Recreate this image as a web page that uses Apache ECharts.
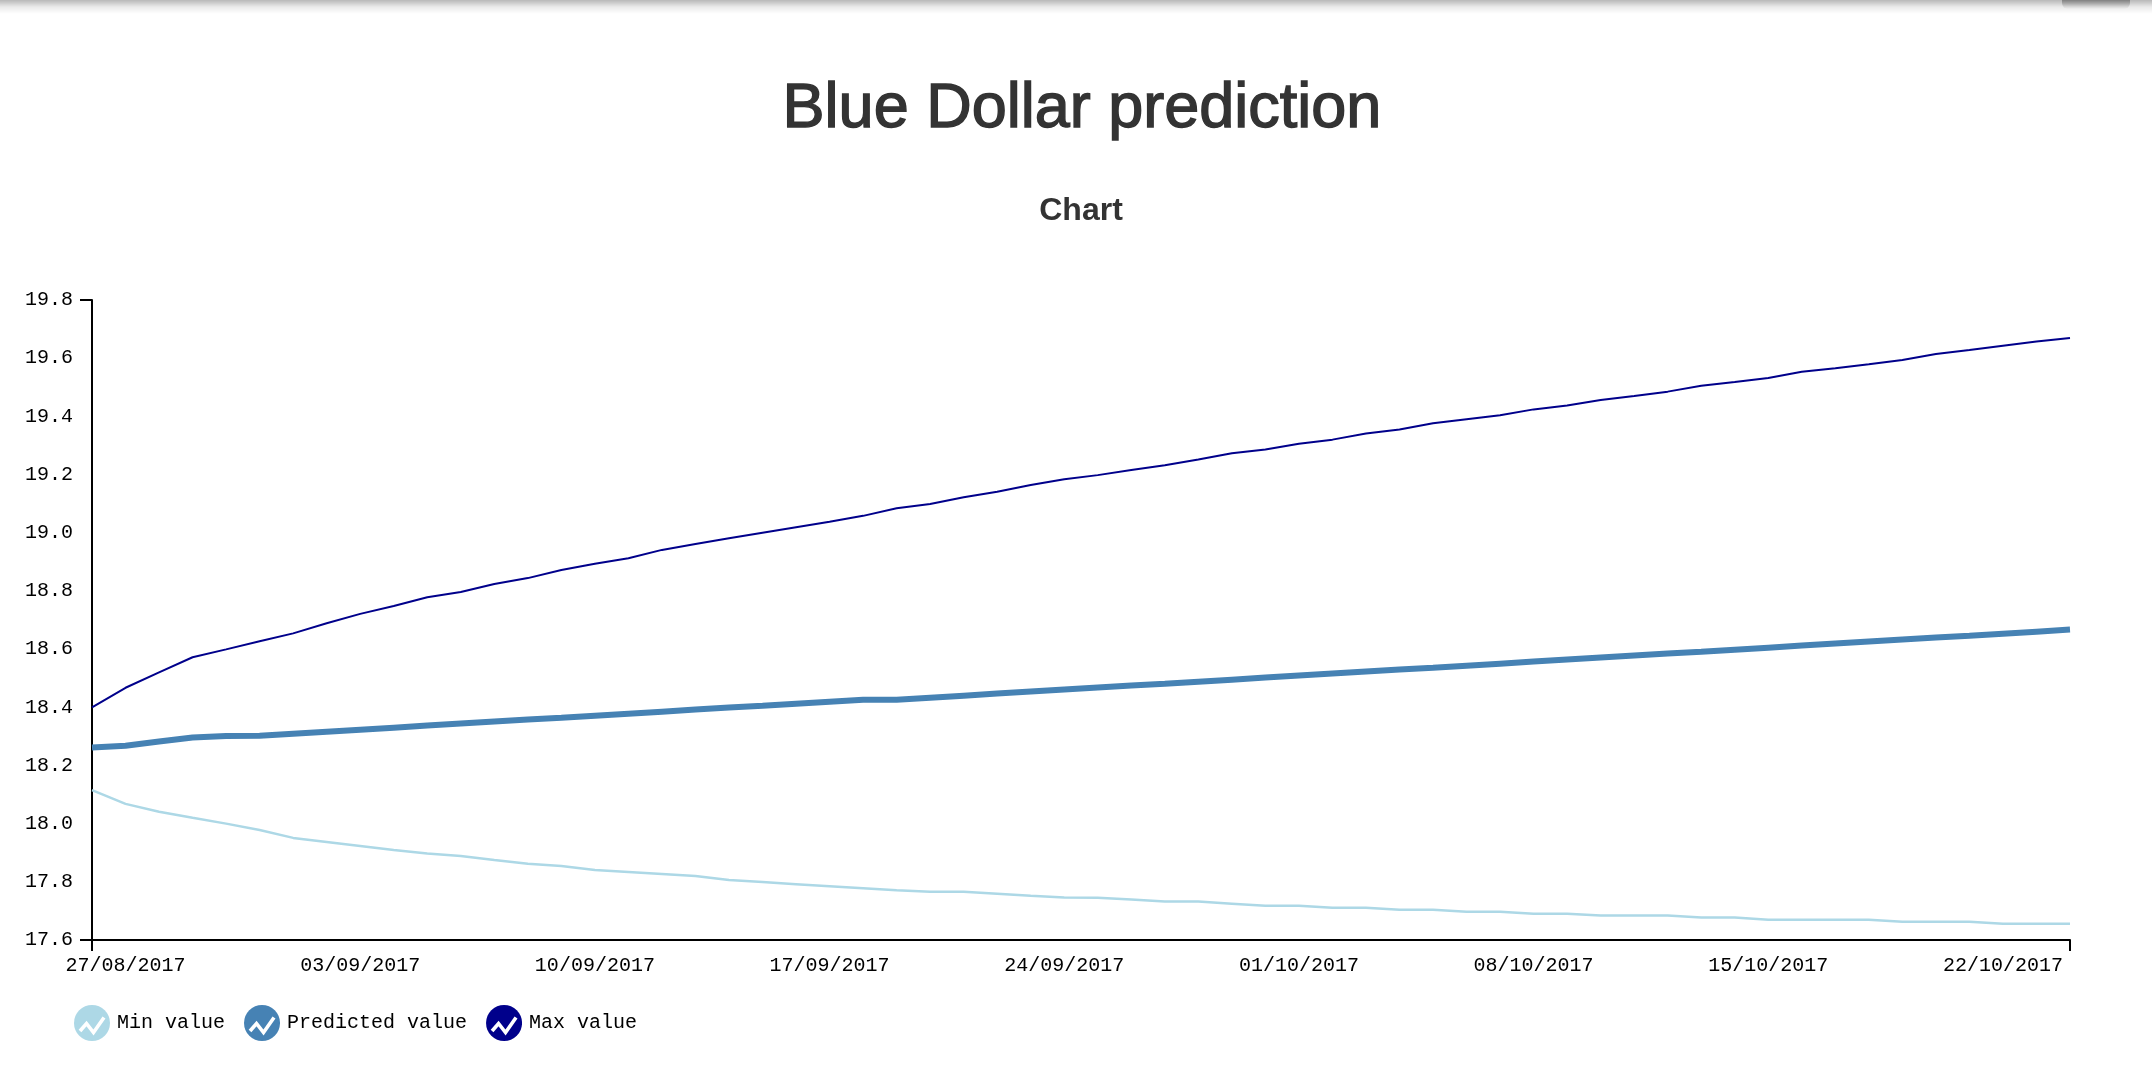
<!DOCTYPE html>
<html>
<head>
<meta charset="utf-8">
<script src="https://cdn.jsdelivr.net/npm/echarts@6/dist/echarts.min.js"></script>
<style>
  html, body { margin: 0; padding: 0; background: #fff; }
  #chart { width: 2152px; height: 1090px; }
  #shade { position: absolute; left: 0; top: 0; width: 2152px; height: 14px;
           background: linear-gradient(to bottom, rgba(0,0,0,0.28), rgba(0,0,0,0.08) 50%, rgba(0,0,0,0)); pointer-events: none; }
  #patch { position: absolute; left: 2062px; top: 0; width: 68px; height: 9px;
           background: linear-gradient(to bottom, rgba(0,0,0,0.3), rgba(0,0,0,0)); border-radius: 0 0 6px 6px; pointer-events: none; }
</style>
</head>
<body>
<div id="chart"></div>
<div id="shade"></div>
<div id="patch"></div>
<script>
const categories = [
  '26/08/2017','27/08/2017','28/08/2017','29/08/2017','30/08/2017','31/08/2017',
  '01/09/2017','02/09/2017','03/09/2017','04/09/2017','05/09/2017','06/09/2017','07/09/2017','08/09/2017','09/09/2017','10/09/2017',
  '11/09/2017','12/09/2017','13/09/2017','14/09/2017','15/09/2017','16/09/2017','17/09/2017','18/09/2017','19/09/2017','20/09/2017',
  '21/09/2017','22/09/2017','23/09/2017','24/09/2017','25/09/2017','26/09/2017','27/09/2017','28/09/2017','29/09/2017','30/09/2017',
  '01/10/2017','02/10/2017','03/10/2017','04/10/2017','05/10/2017','06/10/2017','07/10/2017','08/10/2017','09/10/2017','10/10/2017',
  '11/10/2017','12/10/2017','13/10/2017','14/10/2017','15/10/2017','16/10/2017','17/10/2017','18/10/2017','19/10/2017','20/10/2017',
  '21/10/2017','22/10/2017','23/10/2017','24/10/2017'
];

const minValues = [
  18.115, 18.068, 18.041, 18.020, 18.000, 17.978, 17.951, 17.937, 17.923, 17.909,
  17.897, 17.889, 17.875, 17.862, 17.854, 17.841, 17.834, 17.827, 17.820, 17.806,
  17.799, 17.792, 17.785, 17.778, 17.771, 17.766, 17.766, 17.759, 17.752, 17.746,
  17.745, 17.739, 17.732, 17.732, 17.725, 17.718, 17.718, 17.711, 17.711, 17.704,
  17.704, 17.697, 17.697, 17.690, 17.690, 17.684, 17.684, 17.684, 17.677, 17.677,
  17.670, 17.670, 17.670, 17.670, 17.663, 17.663, 17.663, 17.656, 17.656, 17.656
];

const predictedValues = [
  18.262, 18.268, 18.282, 18.296, 18.301, 18.302, 18.309, 18.316, 18.323, 18.330,
  18.337, 18.344, 18.351, 18.358, 18.364, 18.371, 18.378, 18.385, 18.392, 18.399,
  18.405, 18.412, 18.419, 18.426, 18.426, 18.433, 18.440, 18.447, 18.454, 18.461,
  18.468, 18.475, 18.481, 18.488, 18.495, 18.502, 18.509, 18.516, 18.523, 18.530,
  18.536, 18.543, 18.550, 18.557, 18.564, 18.571, 18.578, 18.585, 18.591, 18.598,
  18.605, 18.612, 18.619, 18.626, 18.633, 18.640, 18.646, 18.653, 18.660, 18.667
];

const maxValues = [
  18.400, 18.467, 18.520, 18.572, 18.599, 18.627, 18.654, 18.689, 18.721, 18.748,
  18.778, 18.796, 18.824, 18.844, 18.872, 18.893, 18.912, 18.941, 18.961, 18.981,
  19.000, 19.019, 19.038, 19.058, 19.084, 19.099, 19.122, 19.141, 19.164, 19.184,
  19.198, 19.216, 19.232, 19.252, 19.273, 19.286, 19.306, 19.320, 19.341, 19.355,
  19.376, 19.390, 19.404, 19.424, 19.437, 19.456, 19.470, 19.485, 19.505, 19.518,
  19.532, 19.553, 19.565, 19.579, 19.594, 19.614, 19.628, 19.643, 19.657, 19.669
];

const seriesNames = ['Min value', 'Predicted value', 'Max value'];
const seriesColors = ['#add8e6', '#4682b4', '#00008b'];
const yTickLabels = [17.6, 17.8, 18.0, 18.2, 18.4, 18.6, 18.8, 19.0, 19.2, 19.4, 19.6, 19.8];

function legendIcon(color) {
  const svg = '<svg xmlns="http://www.w3.org/2000/svg" width="36" height="36" viewBox="0 0 36 36">' +
    '<circle cx="18" cy="18" r="18" fill="' + color + '"/>' +
    '<polyline points="6,26 12.5,18.5 19.5,27.5 30,12.5" fill="none" stroke="#fff" stroke-width="3.6" stroke-linejoin="miter"/>' +
    '</svg>';
  return 'image://data:image/svg+xml;charset=utf-8,' + encodeURIComponent(svg);
}

const chart = echarts.init(document.getElementById('chart'), null, { renderer: 'canvas' });
const mono = 'Liberation Mono';

chart.setOption({
  animation: false,
  backgroundColor: '#fff',
  title: [
    {
      text: 'Blue Dollar prediction',
      left: 1077, top: 73, textAlign: 'center',
      textStyle: { fontFamily: 'Liberation Sans', fontSize: 63, fontWeight: 'normal', color: '#333',
        textBorderColor: '#333', textBorderWidth: 1.4 }
    },
    {
      text: 'Chart',
      left: 1076, top: 190, textAlign: 'center',
      textStyle: { fontFamily: 'Liberation Sans', fontSize: 32, fontWeight: 'bold', color: '#333' }
    }
  ],
  legend: {
    left: 74, top: 1005, padding: 0,
    itemWidth: 36, itemHeight: 36, itemGap: 19,
    textStyle: { fontFamily: mono, fontSize: 20, color: '#000', padding: [0, 0, 0, 2] },
    data: seriesNames.map((n, i) => ({ name: n, icon: legendIcon(seriesColors[i]) }))
  },
  grid: { left: 92, top: 300, width: 1978, height: 640, containLabel: false },
  xAxis: {
    type: 'category',
    data: categories,
    boundaryGap: false,
    axisLine: { show: true, onZero: false, lineStyle: { color: '#000', width: 2 } },
    axisTick: { show: true, length: 11, lineStyle: { color: '#000', width: 2 },
      interval: (idx) => idx === 0 || idx === categories.length - 1 },
    axisLabel: { interval: (idx) => idx % 7 === 1, margin: 16,
      fontFamily: mono, fontSize: 20, color: '#000' },
    splitLine: { show: false }
  },
  yAxis: {
    type: 'value',
    min: 17.6, max: 19.8, interval: 0.2,
    axisLine: { show: true, lineStyle: { color: '#000', width: 2 } },
    axisTick: { show: true, length: 12, lineStyle: { color: '#000', width: 2 },
      customValues: [yTickLabels[0], yTickLabels[yTickLabels.length - 1]] },
    axisLabel: { margin: 19, fontFamily: mono, fontSize: 20, color: '#000',
      customValues: yTickLabels,
      formatter: (v) => Number(v).toFixed(1) },
    splitLine: { show: false }
  },
  series: [
    { name: seriesNames[0], type: 'line', data: minValues, showSymbol: false, symbol: 'none',
      lineStyle: { color: seriesColors[0], width: 2.5 }, itemStyle: { color: seriesColors[0] } },
    { name: seriesNames[1], type: 'line', data: predictedValues, showSymbol: false, symbol: 'none',
      lineStyle: { color: seriesColors[1], width: 6 }, itemStyle: { color: seriesColors[1] } },
    { name: seriesNames[2], type: 'line', data: maxValues, showSymbol: false, symbol: 'none',
      lineStyle: { color: seriesColors[2], width: 2 }, itemStyle: { color: seriesColors[2] } }
  ]
});
</script>
</body>
</html>
